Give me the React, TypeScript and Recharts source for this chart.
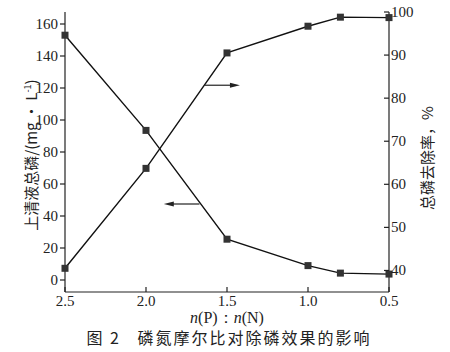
import React from 'react';
import { LineChart, Line, XAxis, YAxis, ReferenceLine } from 'recharts';

const ratio = [2.5, 2.0, 1.5, 1.0, 0.8, 0.5];
const supernatantTP = [153, 93.5, 25.5, 9, 4.3, 3.7];
const removalRate = [40.5, 63.7, 90.5, 96.7, 98.8, 98.7];
const xTicks = [2.5, 2.0, 1.5, 1.0, 0.5];
const leftTicks = [0, 20, 40, 60, 80, 100, 120, 140, 160];
const rightTicks = [40, 50, 60, 70, 80, 90, 100];

const data = ratio.map((r, i) => ({ r, tp: supernatantTP[i], rate: removalRate[i] }));

const FONT = '"Liberation Serif", "DejaVu Serif", serif';
const INK = '#222';

const BottomTick = (props: any) => {
  const { x, y, payload } = props;
  const ay = y - 8;
  return (
    <g>
      <line x1={x} y1={ay} x2={x} y2={ay - 5} stroke={INK} strokeWidth={1.2} />
      <text x={x} y={ay + 14} textAnchor="middle" fontFamily={FONT} fontSize={15} fill={INK}>
        {Number(payload.value).toFixed(1)}
      </text>
    </g>
  );
};

const RightTick = (props: any) => {
  const { x, y, payload } = props;
  const ax = x - 8;
  return (
    <g>
      <line x1={ax} y1={y} x2={ax - 5} y2={y} stroke={INK} strokeWidth={1.2} />
      <text x={ax + 2} y={y + 5} textAnchor="start" fontFamily={FONT} fontSize={15} fill={INK}>
        {payload.value}
      </text>
    </g>
  );
};

const Square = (props: any) => {
  const { cx, cy } = props;
  if (cx == null || cy == null) return null;
  return <rect x={cx - 3.5} y={cy - 3.5} width={7} height={7} fill="#333" />;
};

const arrowShape = (props: any) => {
  const { x1, y1, x2, y2 } = props;
  const dir = x2 > x1 ? 1 : -1;
  return (
    <g>
      <line x1={x1} y1={y1} x2={x2 - dir * 8} y2={y2} stroke={INK} strokeWidth={1.2} />
      <polygon
        points={`${x2},${y2} ${x2 - dir * 10},${y2 - 2.5} ${x2 - dir * 10},${y2 + 2.5}`}
        fill={INK}
      />
    </g>
  );
};

export default function App() {
  return (
    <div style={{ position: 'absolute', left: 0, top: 0, width: 450, height: 352, background: '#fff' }}>
      <LineChart
        width={450}
        height={352}
        data={data}
        margin={{ top: 12, right: 0, left: 0, bottom: 0 }}
      >
        <XAxis
          xAxisId="b"
          dataKey="r"
          type="number"
          domain={[0.5, 2.5]}
          reversed
          ticks={xTicks}
          height={60}
          tick={<BottomTick />}
          tickLine={false}
          axisLine={{ stroke: INK, strokeWidth: 1.2 }}
        />
        <XAxis
          xAxisId="t"
          orientation="top"
          dataKey="r"
          type="number"
          domain={[0.5, 2.5]}
          reversed
          height={0}
          tick={false}
          tickLine={false}
          axisLine={{ stroke: INK, strokeWidth: 1.2 }}
        />
        <YAxis
          yAxisId="L"
          type="number"
          domain={[-7.5, 167.5]}
          ticks={leftTicks}
          width={65}
          tickSize={5}
          tick={{ fontFamily: FONT, fontSize: 15, fill: INK }}
          tickLine={{ stroke: INK, strokeWidth: 1.2 }}
          axisLine={{ stroke: INK, strokeWidth: 1.2 }}
          allowDataOverflow
        />
        <YAxis
          yAxisId="R"
          orientation="right"
          type="number"
          domain={[35, 100]}
          ticks={rightTicks}
          width={61}
          tick={<RightTick />}
          tickLine={false}
          axisLine={{ stroke: INK, strokeWidth: 1.2 }}
          allowDataOverflow
        />
        <Line
          xAxisId="b"
          yAxisId="L"
          dataKey="tp"
          stroke="#111"
          strokeWidth={1.4}
          dot={<Square />}
          isAnimationActive={false}
        />
        <Line
          xAxisId="b"
          yAxisId="R"
          dataKey="rate"
          stroke="#111"
          strokeWidth={1.4}
          dot={<Square />}
          isAnimationActive={false}
        />
        <ReferenceLine
          xAxisId="b"
          yAxisId="R"
          segment={[{ x: 1.64, y: 83 }, { x: 1.42, y: 83 }]}
          shape={arrowShape}
          ifOverflow="visible"
        />
        <ReferenceLine
          xAxisId="b"
          yAxisId="L"
          segment={[{ x: 1.67, y: 47.5 }, { x: 1.89, y: 47.5 }]}
          shape={arrowShape}
          ifOverflow="visible"
        />
      </LineChart>
      <div
        style={{
          position: 'absolute', left: 30, top: 155, transform: 'translate(-50%, -50%) rotate(-90deg)',
          whiteSpace: 'nowrap', fontFamily: '"Noto Sans CJK SC", ' + FONT, fontSize: 15, color: INK,
        }}
      >
        上清液总磷/(mg · L<sup style={{ fontSize: 9 }}>-1</sup>)
      </div>
      <div
        style={{
          position: 'absolute', left: 426, top: 158, transform: 'translate(-50%, -50%) rotate(-90deg)',
          whiteSpace: 'nowrap', fontFamily: '"Noto Sans CJK SC", ' + FONT, fontSize: 15, color: INK,
        }}
      >
        总磷去除率，%
      </div>
      <div
        style={{
          position: 'absolute', left: 227, top: 318, transform: 'translate(-50%, -50%)',
          whiteSpace: 'nowrap', fontFamily: FONT, fontSize: 16, color: INK,
        }}
      >
        <i>n</i>(P)：<i>n</i>(N)
      </div>
      <div
        style={{
          position: 'absolute', left: 229, top: 337, transform: 'translate(-50%, -50%)',
          whiteSpace: 'nowrap', fontFamily: '"Noto Sans CJK SC", sans-serif', fontSize: 16,
          letterSpacing: 2, color: INK,
        }}
      >
        图 2&nbsp;&nbsp;&nbsp;磷氮摩尔比对除磷效果的影响
      </div>
    </div>
  );
}
